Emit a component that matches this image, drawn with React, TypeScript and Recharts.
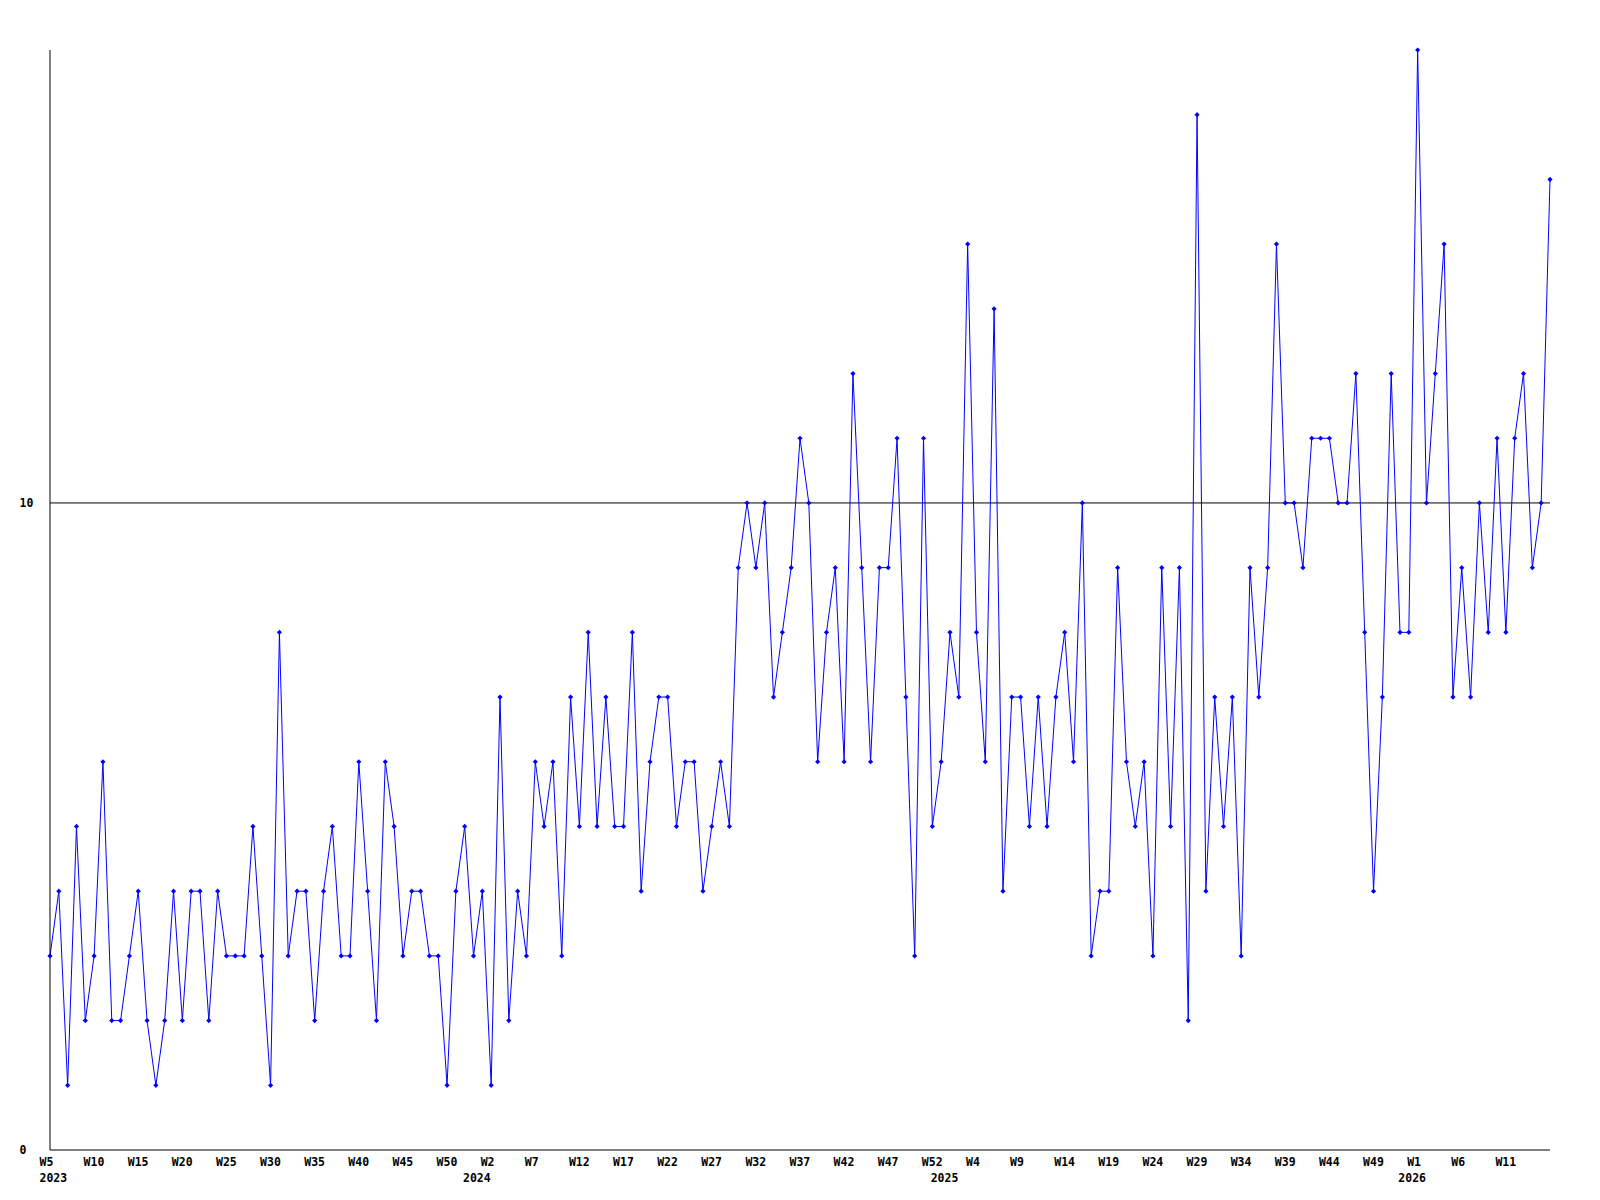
import { LineChart, Line, XAxis, YAxis, ReferenceLine } from 'recharts';

// weeks covered, per calendar year (year label goes under each year's first week)
const YEARS = [2023, 2024, 2025, 2026];
const FIRST_WEEK = [5, 0, 0, 0];
const LAST_WEEK = [52, 52, 52, 16];

// weekly counts, 2023 W5 .. 2026 W16
const COUNTS = [
  3, 4, 1, 5, 2, 3, 6, 2, 2, 3, 4, 2, 1, 2, 4, 2, 4, 4, 2, 4, 3, 3, 3, 5, 3, 1, 8, 3, 4,
  4, 2, 4, 5, 3, 3, 6, 4, 2, 6, 5, 3, 4, 4, 3, 3, 1, 4, 5, 3, 4, 1, 7, 2, 4, 3, 6, 5,
  6, 3, 7, 5, 8, 5, 7, 5, 5, 8, 4, 6, 7, 7, 5, 6, 6, 4, 5, 6, 5, 9, 10, 9, 10, 7, 8, 9, 11,
  10, 6, 8, 9, 6, 12, 9, 6, 9, 9, 11, 7, 3, 11, 5, 6, 8, 7, 14, 8, 6, 13, 4, 7, 7, 5, 7, 5,
  7, 8, 6, 10, 3, 4, 4, 9, 6, 5, 6, 3, 9, 5, 9, 2, 16, 4, 7, 5, 7, 3, 9, 7, 9, 14, 10, 10,
  9, 11, 11, 11, 10, 10, 12, 8, 4, 7, 12, 8, 8, 17, 10, 12, 14, 7, 9, 7, 10, 8, 11, 8, 11, 12, 9, 10, 15,
];

const Y_TICKS = [0, 10];
const Y_MAX = 17;
const LABEL_EVERY = 5;

const FONT = '"DejaVu Sans Mono", monospace';

type Row = { i: number; week: number; year: number; yearStart: boolean; count: number };

const rows: Row[] = [];
YEARS.forEach((year, y) => {
  for (let w = FIRST_WEEK[y]; w <= LAST_WEEK[y]; w++) {
    const i = rows.length;
    rows.push({ i, week: w, year, yearStart: w === FIRST_WEEK[y], count: COUNTS[i] });
  }
});

const lastIndex = rows.length - 1;
const allTicks = rows.map((r) => r.i);

function WeekTick(props: any) {
  const { x, y, payload } = props;
  const r = rows[payload.value];
  if (!r) return null;
  // the final week gets no label (it would run past the plot edge)
  const showWeek = r.i % LABEL_EVERY === 0 && r.i !== lastIndex;
  if (!showWeek && !r.yearStart) return null;
  return (
    <g>
      {showWeek && (
        <text x={x - 10.5} y={y + 16} fontFamily={FONT} fontWeight="bold" fontSize={11.5} fill="#000" textAnchor="start">
          W{r.week}
        </text>
      )}
      {r.yearStart && (
        <text x={x - 10.5} y={y + 31.5} fontFamily={FONT} fontWeight="bold" fontSize={11.5} fill="#000" textAnchor="start">
          {r.year}
        </text>
      )}
    </g>
  );
}

function CountTick(props: any) {
  const { y, payload } = props;
  return (
    <text x={19.5} y={y + 4} fontFamily={FONT} fontWeight="bold" fontSize={11.5} fill="#000" textAnchor="start">
      {payload.value}
    </text>
  );
}

function Diamond(props: any) {
  const { cx, cy } = props;
  if (cx == null || cy == null) return null;
  const r = 2.6;
  return (
    <polygon
      points={`${cx - r},${cy} ${cx},${cy - r} ${cx + r},${cy} ${cx},${cy + r}`}
      fill="#0000ff"
      stroke="none"
    />
  );
}

export default function App() {
  return (
    <div style={{ position: 'absolute', left: 0, top: 0, width: 1600, height: 1200, background: '#fff' }}>
      <LineChart width={1600} height={1200} data={rows} margin={{ top: 50, right: 50, left: 0, bottom: 0 }}>
        <XAxis
          dataKey="i"
          type="number"
          domain={[0, lastIndex]}
          ticks={allTicks}
          interval={0}
          tick={<WeekTick />}
          tickLine={false}
          tickSize={0}
          tickMargin={0}
          height={50}
          axisLine={{ stroke: '#000', strokeWidth: 1 }}
          allowDecimals={false}
        />
        <YAxis
          domain={[0, Y_MAX]}
          ticks={Y_TICKS}
          interval={0}
          tick={<CountTick />}
          tickLine={false}
          tickSize={0}
          tickMargin={0}
          width={50}
          axisLine={{ stroke: '#000', strokeWidth: 1 }}
        />
        <ReferenceLine y={10} stroke="#000" strokeWidth={1} />
        <Line
          type="linear"
          dataKey="count"
          stroke="#0000ff"
          strokeWidth={1}
          dot={<Diamond />}
          activeDot={false}
          isAnimationActive={false}
        />
      </LineChart>
    </div>
  );
}
